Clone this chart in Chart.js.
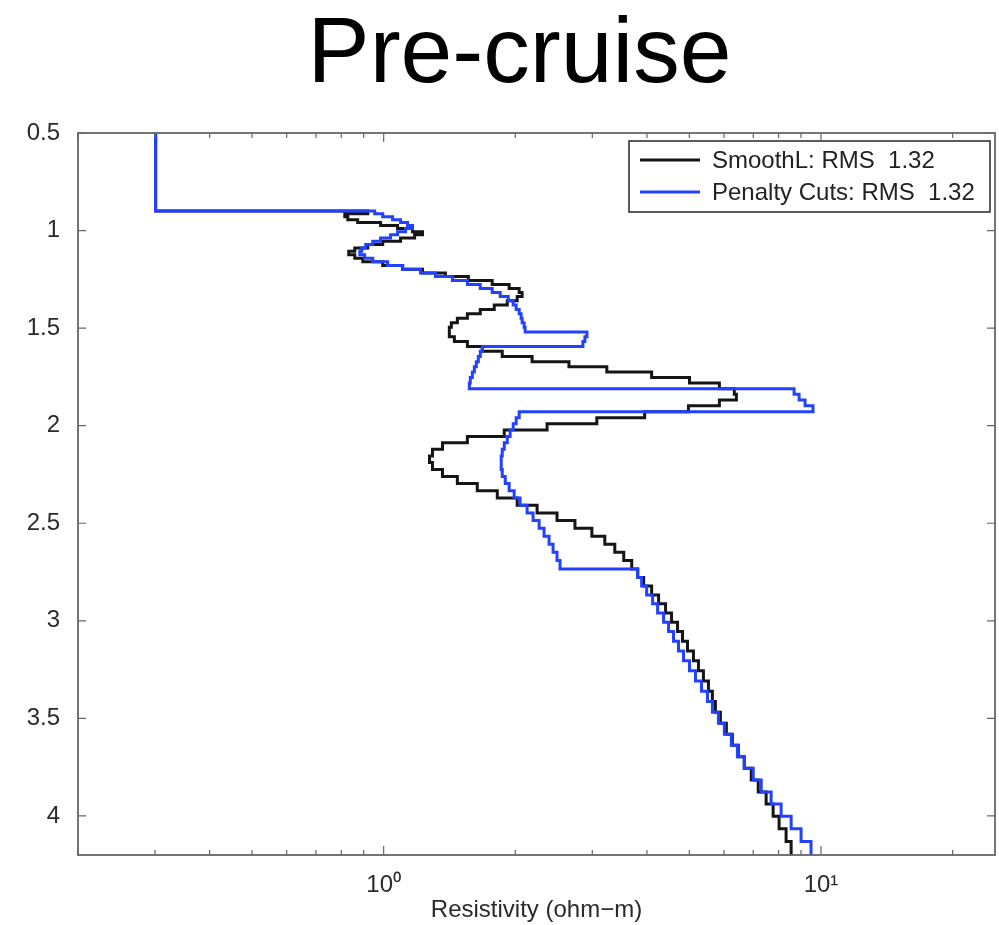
<!DOCTYPE html>
<html>
<head>
<meta charset="utf-8">
<script src="https://cdn.jsdelivr.net/npm/chart.js@4.4.0/dist/chart.umd.min.js"></script>
<style>
    html, body { margin: 0; padding: 0; background: #fff; }
    #wrap { position: relative; width: 999px; height: 925px; }
    #title {
        position: absolute; left: 40px; right: 0; top: 4px;
        text-align: center; color: #000;
        font: 93px/93px "Liberation Sans", Arial, Helvetica, sans-serif;
    }
    #chart { position: absolute; left: 0; top: 0; }
</style>
</head>
<body>
<div id="wrap">
    <canvas id="chart" width="999" height="925"></canvas>
    <div id="title">Pre-cruise</div>
</div>
<script>
// ==============================
// DATA (depth of layer tops, resistivity per layer)
// ==============================
const layerTops = [
    0.5, 0.9, 0.914, 0.929, 0.944, 0.959, 0.974, 0.99, 1.006, 1.022,
    1.038, 1.055, 1.072, 1.089, 1.106, 1.124, 1.142, 1.16, 1.179, 1.198,
    1.217, 1.236, 1.256, 1.276, 1.297, 1.317, 1.338, 1.36, 1.382, 1.404,
    1.426, 1.449, 1.472, 1.496, 1.52, 1.544, 1.569, 1.594, 1.619, 1.645,
    1.672, 1.698, 1.725, 1.753, 1.781, 1.81, 1.839, 1.868, 1.898, 1.928,
    1.959, 1.99, 2.022, 2.055, 2.087, 2.121, 2.155, 2.189, 2.224, 2.26,
    2.296, 2.333, 2.37, 2.408, 2.447, 2.486, 2.525, 2.566, 2.607, 2.649,
    2.691, 2.734, 2.778, 2.822, 2.867, 2.913, 2.96, 3.007, 3.055, 3.104,
    3.154, 3.204, 3.256, 3.308, 3.361, 3.414, 3.469, 3.525, 3.581, 3.638,
    3.696, 3.756, 3.816, 3.877, 3.939, 4.002, 4.066, 4.131
];
const bottomDepth = 4.2;

const smoothL = [
    0.301, 0.92, 0.815, 0.828, 0.872, 0.984, 1.076, 1.164, 1.227, 1.177,
    1.093, 0.995, 0.92, 0.859, 0.832, 0.859, 0.896, 0.995, 1.105, 1.227,
    1.384, 1.562, 1.771, 1.936, 2.041, 2.073, 2.02, 1.917, 1.79, 1.663,
    1.554, 1.474, 1.428, 1.413, 1.413, 1.451, 1.554, 1.681, 1.867, 2.185,
    2.653, 3.238, 4.1, 5.004, 5.857, 6.336, 6.406, 5.857, 4.977, 3.952,
    3.072, 2.364, 1.887, 1.554, 1.363, 1.293, 1.273, 1.293, 1.363, 1.474,
    1.637, 1.819, 2.02, 2.243, 2.491, 2.738, 2.993, 3.204, 3.377, 3.54,
    3.692, 3.81, 3.931, 4.1, 4.253, 4.412, 4.553, 4.699, 4.823, 4.952,
    5.11, 5.246, 5.385, 5.529, 5.646, 5.735, 5.888, 6.076, 6.27, 6.471,
    6.677, 6.927, 7.186, 7.492, 7.773, 8.021, 8.322, 8.546
];

const penaltyCuts = [
    0.301, 0.954, 0.995, 1.048, 1.093, 1.134, 1.164, 1.122, 1.076, 1.037,
    0.984, 0.944, 0.91, 0.891, 0.882, 0.905, 0.944, 1.021, 1.105, 1.214,
    1.314, 1.436, 1.554, 1.663, 1.771, 1.847, 1.927, 1.978, 2.009, 2.041,
    2.062, 2.073, 2.095, 2.106, 2.916, 2.885, 2.855, 1.681, 1.663, 1.646,
    1.629, 1.612, 1.595, 1.578, 1.57, 8.68, 8.911, 9.196, 9.59, 2.041,
    2.009, 1.978, 1.946, 1.917, 1.887, 1.867, 1.857, 1.857, 1.867, 1.897,
    1.936, 1.988, 2.051, 2.128, 2.196, 2.267, 2.327, 2.389, 2.44, 2.491,
    2.531, 3.81, 3.89, 3.994, 4.121, 4.231, 4.366, 4.482, 4.601, 4.723,
    4.849, 5.004, 5.164, 5.33, 5.5, 5.646, 5.827, 6.012, 6.237, 6.44,
    6.677, 7.0, 7.3, 7.691, 8.107, 8.546, 9.005, 9.489
];

const seriesLabels = ['SmoothL: RMS  1.32', 'Penalty Cuts: RMS  1.32'];

// axis ticks
const xMajorTicks = [1, 10];
const xMajorLabels = ['10\u2070', '10\u00B9'];
const xMinorTicks = [0.2, 0.3, 0.4, 0.5, 0.6, 0.7, 0.8, 0.9,
                     2, 3, 4, 5, 6, 7, 8, 9, 20];
const yTicks = [0.5, 1, 1.5, 2, 2.5, 3, 3.5, 4];

const FONT = '"Liberation Sans", Arial, Helvetica, sans-serif';

// stepped profile: each point is (resistivity, top of layer)
function toPoints(values) {
    const pts = values.map((r, i) => ({ x: r, y: layerTops[i] }));
    pts.push({ x: values[values.length - 1], y: bottomDepth });
    return pts;
}

// ==============================
// FRAME + INWARD TICKS
// ==============================
const frameTicks = {
    id: 'frameTicks',
    afterDraw(chart) {
        const { ctx, chartArea: a, scales: { x, y } } = chart;
        ctx.save();
        ctx.strokeStyle = '#666';
        ctx.lineWidth = 1.8;
        ctx.strokeRect(a.left, a.top, a.right - a.left, a.bottom - a.top);

        ctx.lineWidth = 1.2;
        ctx.beginPath();
        xMinorTicks.forEach(v => {
            const px = x.getPixelForValue(v);
            ctx.moveTo(px, a.bottom); ctx.lineTo(px, a.bottom - 5);
            ctx.moveTo(px, a.top); ctx.lineTo(px, a.top + 5);
        });
        xMajorTicks.forEach(v => {
            const px = x.getPixelForValue(v);
            ctx.moveTo(px, a.bottom); ctx.lineTo(px, a.bottom - 9);
            ctx.moveTo(px, a.top); ctx.lineTo(px, a.top + 9);
        });
        yTicks.forEach(v => {
            const py = y.getPixelForValue(v);
            ctx.moveTo(a.left, py); ctx.lineTo(a.left + 8, py);
            ctx.moveTo(a.right, py); ctx.lineTo(a.right - 8, py);
        });
        ctx.stroke();
        ctx.restore();
    }
};

// ==============================
// LEGEND BOX INSIDE PLOT
// ==============================
const insideLegend = {
    id: 'insideLegend',
    afterDatasetsDraw(chart) {
        const { ctx, chartArea: a } = chart;
        const w = 361, h = 71;
        const left = a.right - w - 5, top = a.top + 8;
        ctx.save();
        ctx.fillStyle = '#fff';
        ctx.fillRect(left, top, w, h);
        ctx.strokeStyle = '#333';
        ctx.lineWidth = 1.6;
        ctx.strokeRect(left, top, w, h);

        ctx.font = '24px ' + FONT;
        ctx.textBaseline = 'middle';
        ctx.textAlign = 'left';
        chart.data.datasets.forEach((ds, i) => {
            const rowY = top + 19 + i * 32;
            ctx.strokeStyle = ds.borderColor;
            ctx.lineWidth = 3;
            ctx.beginPath();
            ctx.moveTo(left + 11, rowY);
            ctx.lineTo(left + 71, rowY);
            ctx.stroke();
            ctx.fillStyle = '#222';
            ctx.fillText(ds.label, left + 83, rowY + 1);
        });
        ctx.restore();
    }
};

// ==============================
// CHART
// ==============================
new Chart(document.getElementById('chart'), {
    type: 'line',
    data: {
        datasets: [
            {
                label: seriesLabels[0],
                data: toPoints(smoothL),
                borderColor: '#151515',
                borderWidth: 3,
                stepped: 'after',
                pointRadius: 0,
                borderJoinStyle: 'miter',
                fill: false,
                order: 2
            },
            {
                label: seriesLabels[1],
                data: toPoints(penaltyCuts),
                borderColor: '#2242ff',
                borderWidth: 3,
                stepped: 'after',
                pointRadius: 0,
                borderJoinStyle: 'miter',
                fill: false,
                order: 1
            }
        ]
    },
    options: {
        responsive: false,
        devicePixelRatio: 1,
        animation: false,
        layout: { padding: { top: 133, right: 4, left: 0, bottom: 0 } },
        plugins: {
            legend: { display: false },
            tooltip: { enabled: false },
            title: { display: false }
        },
        scales: {
            x: {
                type: 'logarithmic',
                position: 'bottom',
                min: 0.2,
                max: 25,
                grid: { display: false },
                border: { display: false },
                afterBuildTicks: scale => {
                    scale.ticks = xMajorTicks.map(v => ({ value: v }));
                },
                afterFit: scale => { scale.height = 70; },
                ticks: {
                    autoSkip: false,
                    maxRotation: 0,
                    padding: 8,
                    color: '#2a2a2a',
                    font: { family: FONT, size: 24 },
                    callback: (v, i) => xMajorLabels[i]
                },
                title: {
                    display: true,
                    text: 'Resistivity (ohm\u2212m)',
                    color: '#2a2a2a',
                    font: { family: FONT, size: 24 },
                    padding: { top: 0, bottom: 0 }
                }
            },
            y: {
                type: 'linear',
                reverse: true,
                min: 0.5,
                max: bottomDepth,
                grid: { display: false },
                border: { display: false },
                afterBuildTicks: scale => {
                    scale.ticks = yTicks.map(v => ({ value: v }));
                },
                afterFit: scale => { scale.width = 78; },
                ticks: {
                    autoSkip: false,
                    padding: 10,
                    color: '#2a2a2a',
                    font: { family: FONT, size: 24 },
                    callback: v => String(v)
                }
            }
        }
    },
    plugins: [insideLegend, frameTicks]
});
</script>
</body>
</html>
